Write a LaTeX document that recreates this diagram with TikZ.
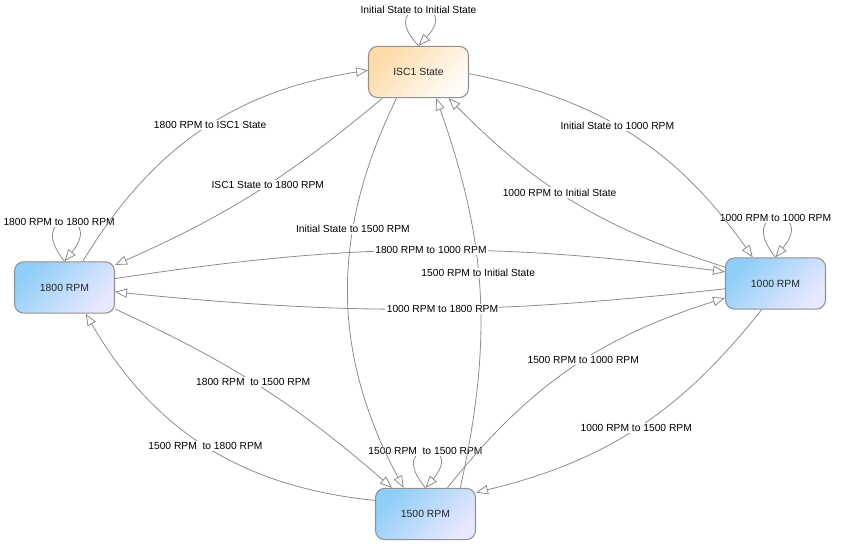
\documentclass[tikz,border=0pt]{standalone}
\usepackage{fontspec}
\setmainfont{Liberation Sans}
\usepackage{tikz}
\usetikzlibrary{arrows.meta, calc}
\definecolor{rpmblue}{RGB}{142, 206, 248}
\definecolor{rpmlilac}{RGB}{232, 232, 255}
\definecolor{iscpeach}{RGB}{253, 218, 168}
\definecolor{iscwhite}{RGB}{255, 253, 248}
\definecolor{edgegray}{RGB}{140, 140, 140}
\definecolor{boxgray}{RGB}{145, 145, 145}

\tikzset{
  state/.style={draw=boxgray, line width=0.8pt, rounded corners=7pt, minimum width=75pt, minimum height=38.5pt, font=\fontsize{7.8}{9}\selectfont, text=black!85},
  rpmstate/.style={state, top color=rpmblue, bottom color=rpmlilac, shading angle=45},
  iscstate/.style={state, top color=iscpeach, bottom color=iscwhite, shading angle=45},
  trans/.style={draw=edgegray, line width=0.6pt, -{Triangle[length=9pt, width=7pt, fill=white]}},
  lbl/.style={fill=white, inner sep=1pt, font=\fontsize{7.7}{9}\selectfont},
}

\begin{document}
\begin{tikzpicture}[x=0.75pt, y=0.75pt]
  \useasboundingbox (0,0) rectangle (847,-552);

  % States
  \node[iscstate] (isc) at (418.5,-72) {ISC1 State};
  \node[rpmstate] (r1800) at (64.5,-287.5) {1800 RPM};
  \node[rpmstate] (r1000) at (775.5,-283.5) {1000 RPM};
  \node[rpmstate] (r1500) at (425.5,-514) {1500 RPM};

  % Self transitions
  \draw[trans] (isc.north) .. controls ($(isc.north)+(-45,48)$) and ($(isc.north)+(45,48)$) .. (isc.north) node[lbl, pos=0.5] {Initial State to Initial State};
  \draw[trans] (r1800.north) .. controls ($(r1800.north)+(-42,52)$) and ($(r1800.north)+(42,52)$) .. (r1800.north) node[lbl, pos=0.5, xshift=-4pt] {1800 RPM to 1800 RPM};
  \draw[trans] (r1000.north) .. controls ($(r1000.north)+(-42,52)$) and ($(r1000.north)+(42,52)$) .. (r1000.north) node[lbl, pos=0.5] {1000 RPM to 1000 RPM};
  \draw[trans] (r1500.north) .. controls ($(r1500.north)+(-42,49)$) and ($(r1500.north)+(42,49)$) .. (r1500.north) node[lbl, pos=0.5] {1500 RPM\ \ to 1500 RPM};

  % ISC1 State transitions
  \draw[trans] (r1800.55) to[bend left=25] node[lbl, pos=0.53] {1800 RPM to ISC1 State} (isc.178);
  \draw[trans] (isc.216) to[bend left=8] node[lbl, pos=0.45] {ISC1 State to 1800 RPM} (r1800.24);
  \draw[trans] (isc.-2) to[bend left=22] node[lbl, pos=0.45] {Initial State to 1000 RPM} (r1000.131);
  \draw[trans] (r1000.162) to[bend left=14] node[lbl, pos=0.56] {1000 RPM to Initial State} (isc.-41);
  \draw[trans] (isc.230) to[bend right=27] node[lbl, pos=0.33] {Initial State to 1500 RPM} (r1500.130);
  \draw[trans] (r1500.37) to[bend right=16] node[lbl, pos=0.55] {1500 RPM to Initial State} (isc.-56);

  % RPM transitions
  \draw[trans] (r1800.10) to[bend left=8] node[lbl, pos=0.52] {1800 RPM to 1000 RPM} (r1000.167);
  \draw[trans] (r1000.186) to[bend left=6] node[lbl, pos=0.46] {1000 RPM to 1800 RPM} (r1800.-5);
  \draw[trans] (r1800.-23) to[bend left=8] node[lbl, pos=0.47] {1800 RPM\ \ to 1500 RPM} (r1500.142);
  \draw[trans] (r1500.165) to[bend left=27] node[lbl] {1500 RPM\ \ to 1800 RPM} (r1800.-51);
  \draw[trans] (r1500.50) to[bend left=17] node[lbl, pos=0.55] {1500 RPM to 1000 RPM} (r1000.196);
  \draw[trans] (r1000.242) to[bend left=19] node[lbl] {1000 RPM to 1500 RPM} (r1500.23);
\end{tikzpicture}
\end{document}
